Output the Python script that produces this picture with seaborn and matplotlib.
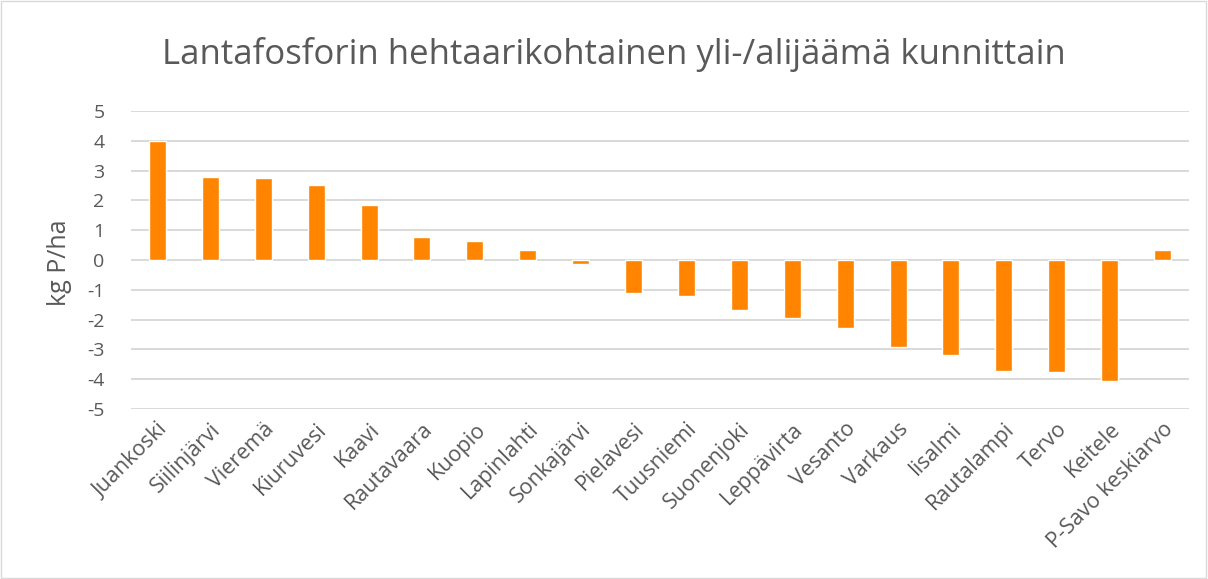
import matplotlib
matplotlib.use("Agg")
import matplotlib.pyplot as plt
import seaborn as sns
import pandas as pd

municipalities = ["Juankoski", "Siilinjärvi", "Vieremä", "Kiuruvesi", "Kaavi",
                  "Rautavaara", "Kuopio", "Lapinlahti", "Sonkajärvi", "Pielavesi",
                  "Tuusniemi", "Suonenjoki", "Leppävirta", "Vesanto", "Varkaus",
                  "Iisalmi", "Rautalampi", "Tervo", "Keitele", "P-Savo keskiarvo"]
surplus = [4.0, 2.79, 2.74, 2.52, 1.83, 0.76, 0.63, 0.35, -0.12, -1.12,
           -1.22, -1.67, -1.96, -2.29, -2.91, -3.18, -3.72, -3.76, -4.07, 0.32]
y_ticks = [5, 4, 3, 2, 1, 0, -1, -2, -3, -4, -5]

df = pd.DataFrame({"kunta": municipalities, "P": surplus})

sns.set_style("white")
plt.rcParams["font.family"] = ["Open Sans", "DejaVu Sans"]
plt.rcParams["axes.unicode_minus"] = False
text_col = "#595959"

fig = plt.figure(figsize=(12.08, 5.79), dpi=100)
ax = fig.add_axes([131 / 1208, 1 - 409 / 579, (1189 - 131) / 1208, (409 - 111) / 579])

sns.barplot(data=df, x="kunta", y="P", color="#FF8500", saturation=1,
            width=0.32, ax=ax, zorder=3)

ax.set_ylim(-5, 5)
ax.set_yticks(y_ticks)
ax.set_xlim(-0.5, len(municipalities) - 0.5)
ax.grid(axis="y", color="#d9d9d9", linewidth=1.4, zorder=0)
for s in ax.spines.values():
    s.set_visible(False)
ax.tick_params(axis="both", length=0, colors=text_col)
ax.tick_params(axis="y", pad=19, labelsize=14)
ax.tick_params(axis="x", pad=7, labelsize=15.5)
plt.setp(ax.get_xticklabels(), rotation=45, ha="right", rotation_mode="anchor")
ax.set_xlabel("")
ax.set_ylabel("kg P/ha", color=text_col, fontsize=18)
ax.yaxis.set_label_coords(-0.056, 0.49)

fig.text(0.508, 1 - 55 / 579, "Lantafosforin hehtaarikohtainen yli-/alijäämä kunnittain",
         ha="center", va="center", color=text_col, fontsize=25)

border = plt.Rectangle((0.001, 0.001), 0.997, 0.997, transform=fig.transFigure,
                       fill=False, edgecolor="#d9d9d9", linewidth=1)
fig.patches.append(border)

fig.savefig("out.png", dpi=100)
